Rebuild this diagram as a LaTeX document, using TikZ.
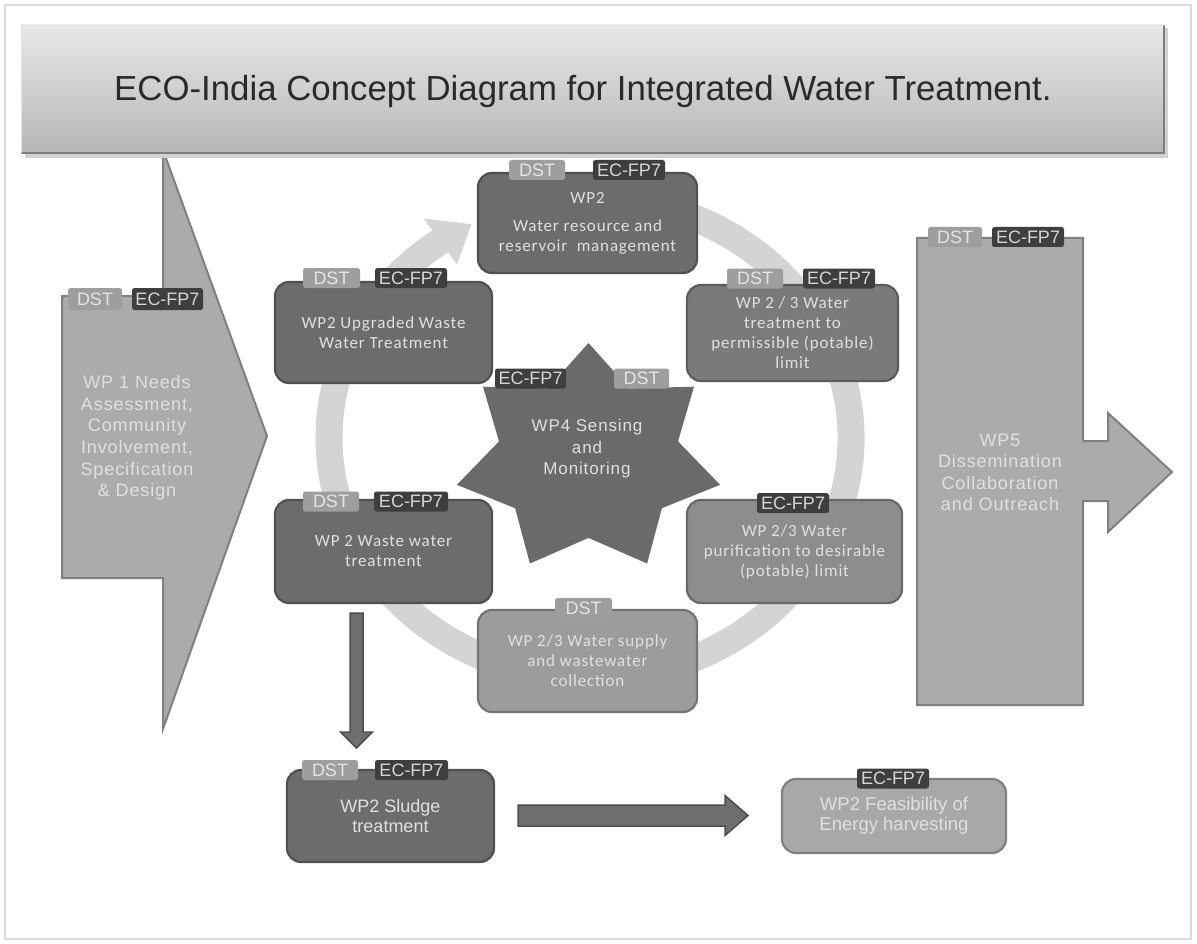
\documentclass[tikz,border=0pt]{standalone}
\usepackage{fontspec}
\setmainfont{Liberation Sans}
\newfontfamily\arsp[LetterSpace=5]{Liberation Sans}
\newfontfamily\casp[LetterSpace=5]{Carlito}
\usetikzlibrary{calc}
\definecolor{framec}{HTML}{D9D9D9}
\definecolor{titletop}{HTML}{E8E8EA}
\definecolor{titlebot}{HTML}{B6B6B8}
\definecolor{titleedge}{HTML}{7E7E80}
\definecolor{shadowc}{HTML}{D2D2D2}
\definecolor{bigfill}{HTML}{ABABAD}
\definecolor{bigedge}{HTML}{808082}
\definecolor{darkfill}{HTML}{6C6C6E}
\definecolor{darkedge}{HTML}{505052}
\definecolor{treatfill}{HTML}{7A7A7C}
\definecolor{treatedge}{HTML}{5C5C5E}
\definecolor{purfill}{HTML}{8D8D8F}
\definecolor{puredge}{HTML}{68686A}
\definecolor{supfill}{HTML}{9C9C9E}
\definecolor{supedge}{HTML}{747476}
\definecolor{feasfill}{HTML}{A8A8AA}
\definecolor{feasedge}{HTML}{808082}
\definecolor{starfill}{HTML}{6A6A6C}
\definecolor{ringc}{HTML}{D4D4D4}
\definecolor{dstfill}{HTML}{9E9E9E}
\definecolor{dsttext}{HTML}{E4E4E4}
\definecolor{ecfill}{HTML}{3E3E3E}
\definecolor{ectext}{HTML}{D6D6D6}
\definecolor{boxtext}{HTML}{E0E0E0}
\definecolor{arrowfill}{HTML}{6E6E70}
\definecolor{arrowedge}{HTML}{4E4E50}
\definecolor{titletext}{HTML}{2A2A2A}
\tikzset{
  boxbase/.style={line width=2.2pt, rounded corners=14pt, align=center, inner sep=0pt,
    text=boxtext, font=\casp\fontsize{17}{20}\selectfont},
  darkbox/.style={boxbase, draw=darkedge, fill=darkfill},
  treatbox/.style={boxbase, draw=treatedge, fill=treatfill},
  purbox/.style={boxbase, draw=puredge, fill=purfill},
  supbox/.style={boxbase, draw=supedge, fill=supfill},
  feasbox/.style={boxbase, draw=feasedge, fill=feasfill, font=\fontsize{18.5}{20}\selectfont},
  sludgebox/.style={darkbox, font=\fontsize{18}{20}\selectfont},
  bigshape/.style={draw=bigedge, fill=bigfill, line width=2pt, line join=miter},
  bigtext/.style={align=center, inner sep=0pt, text=boxtext, font=\arsp\fontsize{18}{21.7}\selectfont},
  tagbase/.style={rounded corners=2.5pt, minimum height=20pt, inner sep=0pt, font=\fontsize{18}{18}\selectfont},
  dsttag/.style={tagbase, fill=dstfill, text=dsttext, minimum width=56pt},
  ectag/.style={tagbase, fill=ecfill, text=ectext, minimum width=72pt},
  blockarrow/.style={draw=arrowedge, fill=arrowfill, line width=1.5pt, line join=miter},
}
\begin{document}
\begin{tikzpicture}[x=1pt,y=-1pt]
\useasboundingbox (0,0) rectangle (1197,944);
\fill[white] (0,0) rectangle (1197,944);
\draw[framec, line width=1.5pt] (5,5) rectangle (1191,939);

% circular flow ring
\coordinate (rc) at (590,438);
\draw[ringc, line width=27pt] (rc) ++(-100:261 and 240) arc[start angle=-100, end angle=237, x radius=261, y radius=240];
\fill[ringc] ($(rc)+(235:290 and 268)$) -- ($(rc)+(243:261 and 240)$) -- ($(rc)+(235:232 and 212)$) -- cycle;

% WP1 arrow
\draw[bigshape] (62,296) -- (163,296) -- (163,150) -- (267,436) -- (163,729) -- (163,578) -- (62,578) -- cycle;
\node[bigtext] (wp1) at (137,438) {WP 1 Needs\\Assessment,\\Community\\Involvement,\\Specification\\\& Design};
\node[dsttag, minimum width=54pt, minimum height=22pt] (wp1d) at (95,299) {DST};
\node[ectag, minimum width=71pt, minimum height=22pt] (wp1e) at (167.5,299) {EC-FP7};

% title
\fill[shadowc] (25,28) rectangle (1168,158);
\shade[top color=titletop, bottom color=titlebot] (21,25) rectangle (1164,153);
\draw[titleedge, line width=1.8pt] (21,153) -- (1164,153) -- (1164,25);
\draw[framec!70!white, line width=0.8pt] (21,153) -- (21,25) -- (1164,25);
\node[anchor=base west, inner sep=0pt, text=titletext, font=\fontsize{34.8}{36}\selectfont] (title) at (114,101)
  {ECO-India Concept Diagram for Integrated Water Treatment.};

% WP5 arrow
\draw[bigshape] (917,238) -- (1083,238) -- (1083,441) -- (1108,441) -- (1108,413) -- (1172,472)
  -- (1108,532) -- (1108,501) -- (1083,501) -- (1083,705) -- (917,705) -- cycle;
\node[bigtext, font=\arsp\fontsize{18}{21.5}\selectfont] (wp5) at (1000,472.5) {WP5\\Dissemination\\Collaboration\\and Outreach};
\node[dsttag, minimum width=54pt] (wp5d) at (955,237) {DST};
\node[ectag] (wp5e) at (1028,237) {EC-FP7};

% star
\fill[starfill] (588.5,343) -- (629.1,388.4) -- (694.0,386.7) -- (678.0,441.4) -- (720.1,484.8)
  -- (661.9,508.2) -- (647.1,563.5) -- (588.5,537.9) -- (529.9,563.5) -- (515.1,508.2)
  -- (456.9,484.8) -- (499.0,441.4) -- (483.0,386.7) -- (547.9,388.4) -- cycle;
\node[align=center, inner sep=0pt, text=boxtext, font=\arsp\fontsize{17}{21.5}\selectfont] (wp4) at (587,449) {WP4 Sensing\\and\\Monitoring};
\node[ectag, minimum width=71pt] (wp4e) at (530.5,378.5) {EC-FP7};
\node[dsttag, minimum width=55pt] (wp4d) at (641.5,378.5) {DST};

% boxes
\node[darkbox, minimum width=219pt, minimum height=100pt] (top) at (587.5,223)
  {WP2\\[8pt]Water resource and\\reservoir~ management};
\node[darkbox, minimum width=217pt, minimum height=101pt] (upg) at (383.5,332.5)
  {WP2 Upgraded Waste\\Water Treatment};
\node[treatbox, minimum width=211pt, minimum height=96pt] (treat) at (792.5,333)
  {WP 2 / 3 Water\\treatment to\\permissible (potable)\\limit};
\node[darkbox, minimum width=217pt, minimum height=103pt] (waste) at (383.5,551.5)
  {WP 2 Waste water\\treatment};
\node[purbox, minimum width=215pt, minimum height=103pt] (pur) at (794.5,551.5)
  {WP 2/3 Water\\purification to desirable\\(potable) limit};
\node[supbox, minimum width=219pt, minimum height=102pt] (sup) at (587.5,661)
  {WP 2/3 Water supply\\and wastewater\\collection};
\node[sludgebox, minimum width=207pt, minimum height=92pt] (sludge) at (390.5,816)
  {WP2 Sludge\\treatment};
\node[feasbox, minimum width=224pt, minimum height=74pt] (feas) at (894,816)
  {WP2 Feasibility of\\Energy harvesting};

% tags
\node[dsttag] (topd) at (537,170) {DST};
\node[ectag] (tope) at (629,170) {EC-FP7};
\node[dsttag, minimum width=57pt] (upgd) at (331.5,278) {DST};
\node[ectag] (upge) at (411,278) {EC-FP7};
\node[dsttag] (treatd) at (755,278.5) {DST};
\node[ectag] (treate) at (839,278.5) {EC-FP7};
\node[dsttag] (wasted) at (331,501.5) {DST};
\node[ectag, minimum width=74pt] (wastee) at (411,501.5) {EC-FP7};
\node[ectag] (pure) at (793,503) {EC-FP7};
\node[dsttag, minimum width=57pt] (supd) at (583.5,608) {DST};
\node[dsttag] (sludged) at (330,770) {DST};
\node[ectag, minimum width=73pt] (sludgee) at (411.5,770) {EC-FP7};
\node[ectag] (fease) at (893,778.5) {EC-FP7};

% block arrows
\coordinate (dA) at (356.5,613);
\coordinate (dB) at (356.5,748);
\draw[blockarrow] ($(dA)+(-6.5,0)$) -- ($(dA)+(6.5,0)$) -- ($(dB)+(6.5,-16)$) -- ($(dB)+(16,-16)$)
  -- (dB) -- ($(dB)+(-16,-16)$) -- ($(dB)+(-6.5,-16)$) -- cycle;
\coordinate (rA) at (518,815.5);
\coordinate (rB) at (748,815.5);
\draw[blockarrow] ($(rA)+(0,-10.5)$) -- ($(rB)+(-23,-10.5)$) -- ($(rB)+(-23,-20)$) -- (rB)
  -- ($(rB)+(-23,20)$) -- ($(rB)+(-23,10.5)$) -- ($(rA)+(0,10.5)$) -- cycle;
\end{tikzpicture}
\end{document}
